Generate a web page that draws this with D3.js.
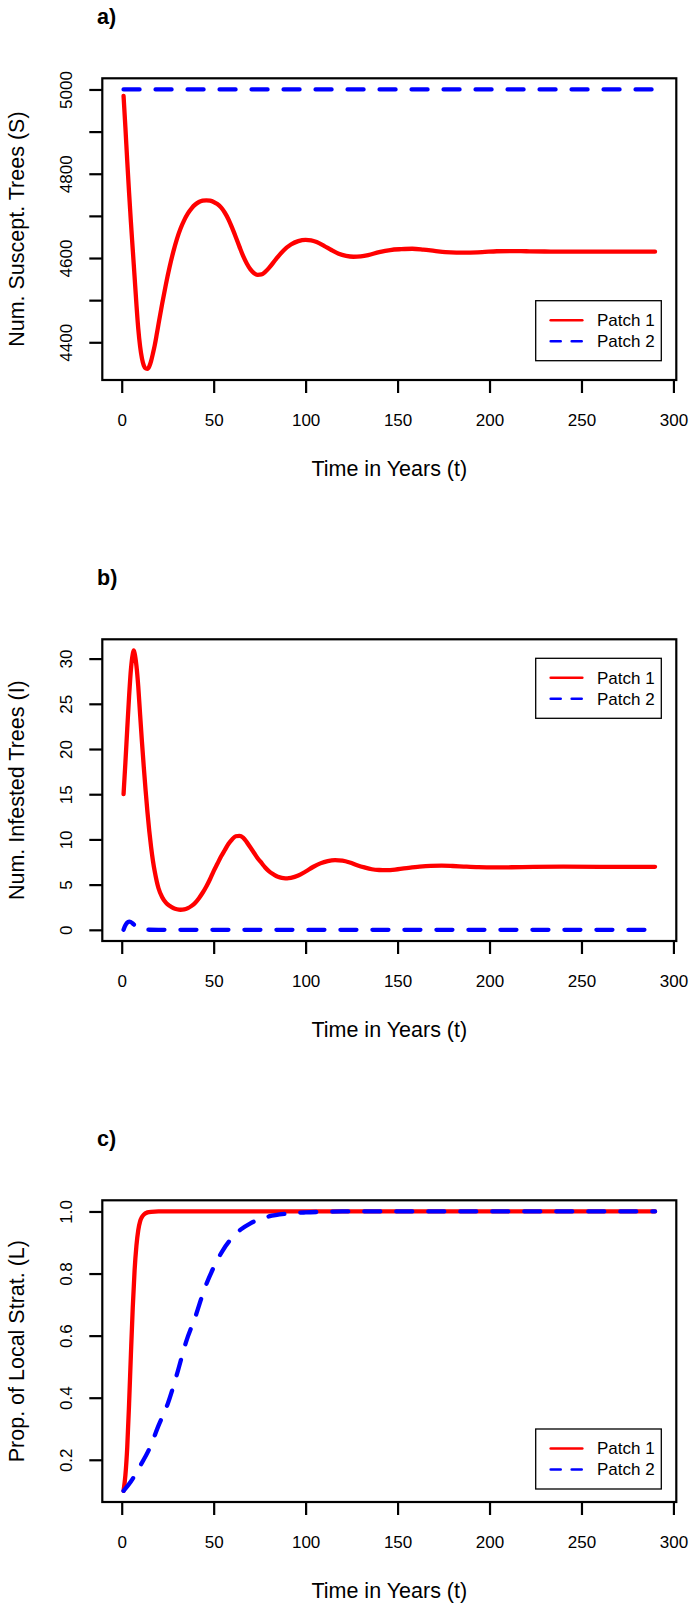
<!DOCTYPE html>
<html><head><meta charset="utf-8">
<script src="https://cdn.jsdelivr.net/npm/d3@7"></script>
<style>body{margin:0;background:#fff}svg{display:block}</style>
</head><body>
<svg id="c" width="693" height="1609"></svg>
<script>
// ---------- data ----------
const xTicks = [0, 50, 100, 150, 200, 250, 300];
const xLabels = ["0", "50", "100", "150", "200", "250", "300"];

// a) susceptible trees
const tS = [1,2,3,4,5,6,7,8,9,10,11,12,13,14,15,16,17,18,19,20,22,24,26,28,30,32,34,36,38,40,42,44,46,48,50,52,54,56,58,60,62,64,66,68,70,72,74,76,78,80,84,88,92,96,100,103,106,110,114,118,122,126,130,134,140,146,152,158,164,170,176,182,188,196,204,212,220,230,240,260,290];
const S1 = [4985,4910,4830,4755,4685,4620,4555,4490,4432,4390,4362,4345,4338,4337,4343,4356,4374,4394,4418,4443,4492,4537,4578,4614,4645,4670,4690,4706,4718,4727,4733,4736,4737,4736,4733,4728,4720,4708,4692,4672,4650,4627,4605,4587,4573,4564,4560,4561,4567,4576,4598,4618,4632,4640,4643,4642,4638,4629,4619,4610,4605,4603,4604,4607,4614,4619,4621,4622,4620,4617,4614,4613,4613,4614,4616,4616.5,4616,4615.5,4615,4615,4615];
const tS2 = [1, 290];
const S2 = [5000, 5000];
const yTicksA = [4400,4500,4600,4700,4800,4900,5000];
const yLabelsA = ["4400","","4600","","4800","","5000"];

// b) infested trees
const tI = [1,2,3,4,5,6,6.5,7,8,9,10,11,12,13,14,15,16,17,18,19,20,22,24,26,28,30,32,34,36,38,40,42,44,46,48,50,52,54,56,58,60,62,64,66,68,70,72,74,76,78,80,82,84,86,88,90,92,96,100,104,108,112,116,120,124,128,132,136,140,144,150,156,162,168,174,180,186,194,202,212,224,240,260,290];
const I1 = [15,18.5,22.2,25.8,28.8,30.5,30.9,30.6,29.2,26.9,23.8,20.8,18.0,15.4,13.0,10.9,9.1,7.6,6.4,5.4,4.6,3.6,3.0,2.65,2.42,2.28,2.22,2.25,2.4,2.65,3.0,3.5,4.1,4.8,5.6,6.5,7.3,8.1,8.8,9.5,10.0,10.35,10.4,10.2,9.7,9.1,8.5,7.9,7.4,6.9,6.5,6.2,5.95,5.8,5.72,5.7,5.75,6.0,6.45,6.95,7.35,7.6,7.7,7.65,7.45,7.15,6.9,6.7,6.62,6.6,6.7,6.85,6.98,7.07,7.1,7.06,7.0,6.93,6.9,6.92,6.96,6.98,6.97,6.97];
const tI2 = [1,2,3,4,5,6,7,8,9,10,12,15,20,290];
const I2 = [0,0.5,0.8,0.9,0.85,0.7,0.5,0.32,0.18,0.1,0.03,0.01,0,0];
const yTicksB = [0,5,10,15,20,25,30];
const yLabelsB = ["0","5","10","15","20","25","30"];

// c) proportion of local strategy
const tL = [1,2,3,4,5,6,7,8,9,10,11,12,14,16,20,30,290];
const L1 = [0.1,0.15,0.24,0.38,0.54,0.69,0.81,0.89,0.94,0.968,0.982,0.99,0.997,0.999,1.0,1.0,1.0];
const tL2 = [1,5,10,15,20,25,30,35,40,45,50,55,60,65,70,75,80,90,100,110,120,290];
const L2 = [0.1,0.13,0.18,0.235,0.31,0.38,0.475,0.58,0.66,0.75,0.82,0.875,0.915,0.943,0.962,0.975,0.984,0.993,0.997,0.999,1.0,1.0];
const yTicksC = [0.2,0.4,0.6,0.8,1.0];
const yLabelsC = ["0.2","0.4","0.6","0.8","1.0"];

const seriesNames = ["Patch 1", "Patch 2"];

// ---------- layout ----------
const FONT = '"Liberation Sans", Arial, Helvetica, sans-serif';
const BOX = {left: 102.3, right: 676.3, top: 78.3, bottom: 380};
const STEP = 561;
const RED = "#ff0000", BLUE = "#0000ff";

const panels = [
  {letter: "a)", ylab: "Num. Suscept. Trees (S)", yTicks: yTicksA, yLabels: yLabelsA,
   series: [{t: tS, v: S1, color: RED, dashed: false}, {t: tS2, v: S2, color: BLUE, dashed: true}],
   legendTop: 300.7},
  {letter: "b)", ylab: "Num. Infested Trees (I)", yTicks: yTicksB, yLabels: yLabelsB,
   series: [{t: tI, v: I1, color: RED, dashed: false}, {t: tI2, v: I2, color: BLUE, dashed: true}],
   legendTop: 97.3},
  {letter: "c)", ylab: "Prop. of Local Strat. (L)", yTicks: yTicksC, yLabels: yLabelsC,
   series: [{t: tL, v: L1, color: RED, dashed: false}, {t: tL2, v: L2, color: BLUE, dashed: true}],
   legendTop: 307}
];

function pad(ext) { const r = ext[1] - ext[0]; return [ext[0] - 0.04 * r, ext[1] + 0.04 * r]; }

const svg = d3.select("#c");
svg.append("rect").attr("width", 693).attr("height", 1609).attr("fill", "#fff");

panels.forEach((p, i) => {
  const g = svg.append("g").attr("transform", `translate(0,${i * STEP})`);
  const x = d3.scaleLinear().domain(pad(d3.extent(tS.concat(tS2)))).range([BOX.left, BOX.right]);
  const allV = p.series.flatMap(s => s.v);
  const y = d3.scaleLinear().domain(pad(d3.extent(allV))).range([BOX.bottom, BOX.top]);

  const line = d3.line().x(d => x(d[0])).y(d => y(d[1])).curve(d3.curveMonotoneX);
  p.series.forEach(s => {
    g.append("path").datum(d3.zip(s.t, s.v)).attr("d", line)
      .attr("fill", "none").attr("stroke", s.color).attr("stroke-width", 4.3)
      .attr("stroke-linecap", "round").attr("stroke-linejoin", "round")
      .attr("stroke-dasharray", s.dashed ? "16,16" : null);
  });

  g.append("rect").attr("x", BOX.left).attr("y", BOX.top)
    .attr("width", BOX.right - BOX.left).attr("height", BOX.bottom - BOX.top)
    .attr("fill", "none").attr("stroke", "#000").attr("stroke-width", 2.2);

  const xa = g.append("g").attr("transform", `translate(0,${BOX.bottom})`)
    .call(d3.axisBottom(x).tickValues(xTicks).tickFormat((d, k) => xLabels[k]).tickSize(13).tickPadding(21));
  xa.select(".domain").remove();
  xa.attr("font-size", 17).attr("font-family", FONT);
  xa.selectAll("line").attr("stroke", "#000").attr("stroke-width", 2.2);
  xa.selectAll("text").attr("fill", "#000");

  const ya = g.append("g").attr("transform", `translate(${BOX.left},0)`)
    .call(d3.axisLeft(y).tickValues(p.yTicks).tickFormat((d, k) => p.yLabels[k]).tickSize(13));
  ya.select(".domain").remove();
  ya.attr("font-size", 17).attr("font-family", FONT);
  ya.selectAll("line").attr("stroke", "#000").attr("stroke-width", 2.2);
  ya.selectAll("text").attr("fill", "#000").attr("transform", "rotate(-90)")
    .attr("x", 0).attr("y", -30.6).attr("dy", 0).attr("text-anchor", "middle");

  // titles
  g.append("text").attr("x", (BOX.left + BOX.right) / 2).attr("y", 476)
    .attr("text-anchor", "middle").attr("font-family", FONT).attr("font-size", 21.5)
    .text("Time in Years (t)");
  g.append("text").attr("transform", `translate(24,${(BOX.top + BOX.bottom) / 2}) rotate(-90)`)
    .attr("text-anchor", "middle").attr("font-family", FONT).attr("font-size", 21.5)
    .text(p.ylab);
  g.append("text").attr("x", 97).attr("y", 23.5).attr("font-family", FONT)
    .attr("font-size", 21.5).attr("font-weight", "bold").text(p.letter);

  // legend
  const lg = g.append("g").attr("transform", `translate(535.7,${p.legendTop})`);
  lg.append("rect").attr("width", 125.6).attr("height", 60).attr("fill", "#fff")
    .attr("stroke", "#000").attr("stroke-width", 1.3);
  p.series.forEach((s, k) => {
    const ly = 19.5 + k * 21;
    lg.append("line").attr("x1", 15).attr("x2", 46.6).attr("y1", ly).attr("y2", ly)
      .attr("stroke", s.color).attr("stroke-width", 2.6).attr("stroke-linecap", "round")
      .attr("stroke-dasharray", s.dashed ? "10,11" : null);
    lg.append("text").attr("x", 61.3).attr("y", ly).attr("dy", "0.35em")
      .attr("font-family", FONT).attr("font-size", 17).text(seriesNames[k]);
  });
});
</script>
</body></html>
